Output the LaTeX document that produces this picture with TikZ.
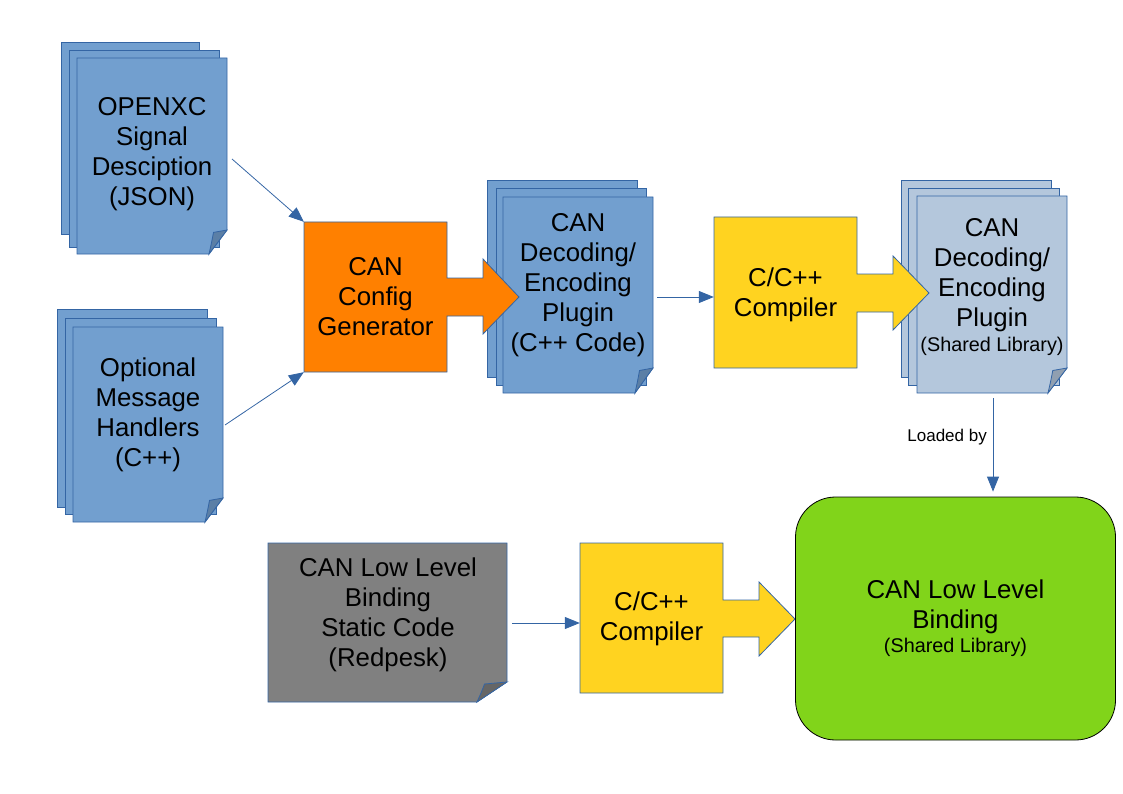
\documentclass[tikz,border=0pt]{standalone}
\usepackage{fontspec}
\setmainfont{Liberation Sans}
\usetikzlibrary{arrows.meta,calc}
\definecolor{bord}{HTML}{3465A4}
\definecolor{docblue}{HTML}{729FCF}
\definecolor{docbluefold}{HTML}{5B7FA6}
\definecolor{libblue}{HTML}{B4C7DC}
\definecolor{libbluefold}{HTML}{909FB0}
\definecolor{docgray}{HTML}{808080}
\definecolor{docgrayfold}{HTML}{666666}
\definecolor{genorange}{HTML}{FF8000}
\definecolor{compyellow}{HTML}{FFD320}
\definecolor{llbgreen}{HTML}{81D41A}
\newcommand\backsheet[5]{\filldraw[fill=#5,draw=bord,line width=0.8pt] (#1,#2) rectangle (#3,#4);}
\newcommand\docsheet[8]{%
  \filldraw[fill=#7,draw=bord,line width=0.8pt] (#1,#2) -- (#3,#2) -- (#3,#4-#6) -- (#3-#5,#4) -- (#1,#4) -- cycle;
  \filldraw[fill=#8,draw=bord,line width=0.8pt] (#3-#5,#4) .. controls (#3-0.85*#5,#4-0.5*#6) .. (#3-0.75*#5,#4-0.9*#6) .. controls (#3-0.4*#5,#4-0.98*#6) .. (#3,#4-#6) -- cycle;
}
\begin{document}
\begin{tikzpicture}[x=1pt,y=-1pt,
  txt/.style={align=center,inner sep=0pt,font=\fontsize{25.8}{30}\selectfont},
  boxnode/.style={txt,draw=none},
  lbl/.style={inner sep=0pt,font=\fontsize{17}{20}\selectfont},
  conn/.style={draw=bord,line width=0.8pt,-{Triangle[length=15pt,width=12pt]}},
  shapeline/.style={draw=bord,line width=0.8pt}]
\useasboundingbox (0,0) rectangle (1123,794);
\newcommand\smalltext{\fontsize{19.8}{30}\selectfont}

% Doc 1
\backsheet{61}{42}{199}{234}{docblue}
\backsheet{69}{50}{219}{247}{docblue}
\docsheet{77}{58}{227}{254}{18}{24}{docblue}{docbluefold}
\node[txt] (d1) at (152,154) {OPENXC\\Signal\\Desciption\\(JSON)};

% Doc 2
\backsheet{57}{309}{207}{507}{docblue}
\backsheet{65}{318}{216}{514}{docblue}
\docsheet{73}{327}{223}{522}{18}{24}{docblue}{docbluefold}
\node[txt] (d2) at (148,415) {Optional\\Message\\Handlers\\(C++)};

% Doc 3
\backsheet{487}{180}{637}{377}{docblue}
\backsheet{496}{188}{646}{385}{docblue}
\docsheet{503}{197}{653}{393}{18}{25}{docblue}{docbluefold}
\node[txt] (d3) at (578,285) {CAN\\Decoding/\\Encoding\\Plugin\\(C++ Code)};

% Generator with block arrow
\filldraw[fill=genorange,shapeline] (304,222) -- (447,222) -- (447,278) -- (483,278) -- (483,259) -- (519,297) -- (483,334) -- (483,316) -- (447,316) -- (447,372) -- (304,372) -- cycle;
\node[boxnode,minimum width=143pt,minimum height=150pt] (gen) at (375.5,297) {CAN\\Config\\Generator};

% Doc 4
\backsheet{901}{180}{1051}{377}{libblue}
\backsheet{908}{188}{1059}{385}{libblue}
\docsheet{917}{196}{1067}{393}{19}{25}{libblue}{libbluefold}
\node[txt] (d4) at (992,287) {CAN\\Decoding/\\Encoding\\Plugin\\[-5pt]{\smalltext (Shared Library)}};

% Compiler 1 with block arrow
\filldraw[fill=compyellow,shapeline] (714,217) -- (857,217) -- (857,274) -- (893,274) -- (893,256) -- (929,293) -- (893,330) -- (893,312) -- (857,312) -- (857,368) -- (714,368) -- cycle;
\node[boxnode,minimum width=143pt,minimum height=151pt] (comp1) at (785.5,294.5) {C/C++\\Compiler};

% Gray static code doc
\docsheet{268}{543}{507}{702}{30}{20}{docgray}{docgrayfold}
\node[txt] (g) at (388,615) {CAN Low Level\\Binding\\Static Code\\(Redpesk)};

% Compiler 2 with block arrow
\filldraw[fill=compyellow,shapeline] (580,543) -- (723,543) -- (723,600) -- (759,600) -- (759,582) -- (795,619) -- (759,656) -- (759,637) -- (723,637) -- (723,693) -- (580,693) -- cycle;
\node[boxnode,minimum width=143pt,minimum height=150pt] (comp2) at (651.5,619) {C/C++\\Compiler};

% Low level binding
\node[txt,draw=black,fill=llbgreen,line width=0.8pt,rounded corners=40pt,minimum width=320pt,minimum height=243pt] (llb) at (955.5,618.5) {CAN Low Level\\Binding\\[-6pt]{\smalltext (Shared Library)}};

% Connectors
\coordinate (d1o) at (232,159);
\coordinate (d2o) at (225,425);
\coordinate (d3o) at (657,297);
\coordinate (go) at (512,623);
\coordinate (d4o) at (993,398);
\draw[conn] (d1o) -- (gen.north west);
\draw[conn] (d2o) -- (gen.south west);
\draw[conn] (d3o) -- (d3o -| comp1.west);
\draw[conn] (go) -- (go -| comp2.west);
\draw[conn,shorten >=5pt] (d4o) -- (d4o |- llb.north);
\node[lbl,anchor=east] (lb) at (987,437) {Loaded by};
\end{tikzpicture}
\end{document}
